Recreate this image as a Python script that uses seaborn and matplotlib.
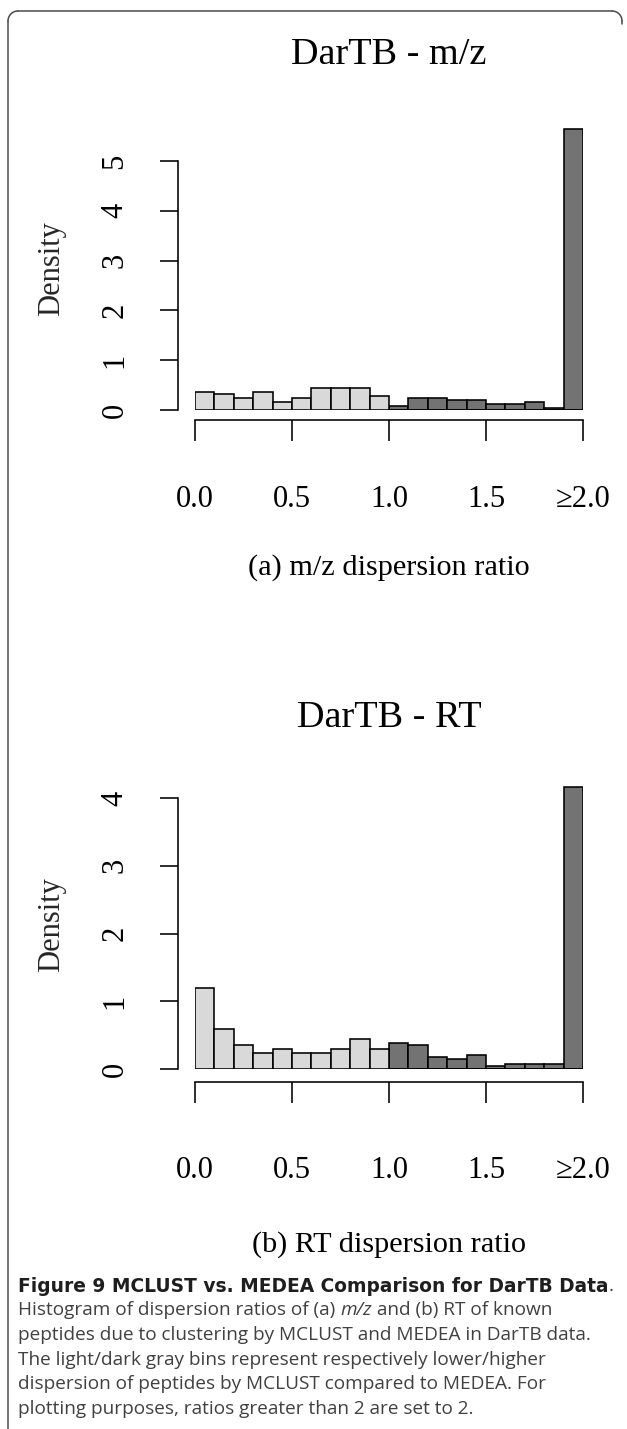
import numpy as np
import pandas as pd
import matplotlib
matplotlib.use("Agg")
import matplotlib.pyplot as plt
from matplotlib.lines import Line2D
import seaborn as sns

# ---------------- data ----------------
bin_edges = [0.0, 0.1, 0.2, 0.3, 0.4, 0.5, 0.6, 0.7, 0.8, 0.9, 1.0,
             1.1, 1.2, 1.3, 1.4, 1.5, 1.6, 1.7, 1.8, 1.9, 2.0]
mz_density = [0.37, 0.33, 0.24, 0.37, 0.17, 0.24, 0.44, 0.44, 0.44, 0.29,
              0.08, 0.24, 0.24, 0.20, 0.20, 0.12, 0.12, 0.17, 0.04, 5.64]
rt_density = [1.19, 0.59, 0.35, 0.23, 0.30, 0.23, 0.23, 0.30, 0.45, 0.30,
              0.39, 0.35, 0.18, 0.15, 0.21, 0.05, 0.08, 0.08, 0.08, 4.16]
x_ticks = [0.0, 0.5, 1.0, 1.5, 2.0]
x_ticklabels = ["0.0", "0.5", "1.0", "1.5", "\u22652.0"]
mz_yticks = [0, 1, 2, 3, 4, 5]
rt_yticks = [0, 1, 2, 3, 4]
titles = ["DarTB - m/z", "DarTB - RT"]
xlabels = ["(a) m/z dispersion ratio", "(b) RT dispersion ratio"]
ylabel = "Density"

LIGHT = "#D9D9D9"
DARK = "#737373"

sns.set_theme(style="white")
plt.rcParams["font.family"] = ["Liberation Serif", "DejaVu Serif"]

W, H = 627, 1429
fig = plt.figure(figsize=(W / 100, H / 100), dpi=100)
fig.patch.set_facecolor("white")


def fx(px):
    return px / W


def fy(py):
    return 1 - py / H


def panel(ax, dens, yticks, ytop, title, xlabel, xoff, xpad, title_base, xlab_base):
    edges = list(bin_edges)
    centers = [(edges[i] + edges[i + 1]) / 2 for i in range(len(edges) - 1)]
    shade = ["light" if c < 1.0 else "dark" for c in centers]
    df = pd.DataFrame({"center": centers, "density": dens, "shade": shade})
    sns.histplot(data=df, x="center", weights="density", hue="shade",
                 bins=edges, stat="count", multiple="layer",
                 hue_order=["light", "dark"],
                 palette={"light": LIGHT, "dark": DARK}, alpha=1,
                 edgecolor="black", linewidth=1.15, legend=False, ax=ax)
    ax.set_xlim(0, 2)
    ax.set_ylim(0, ytop)
    ax.set_facecolor("white")
    for s in ["top", "right"]:
        ax.spines[s].set_visible(False)
    ax.spines["left"].set_position(("outward", 12.2))
    ax.spines["left"].set_bounds(yticks[0], yticks[-1])
    ax.spines["bottom"].set_position(("outward", xoff))
    ax.spines["bottom"].set_bounds(0, 2)
    for s in ["left", "bottom"]:
        ax.spines[s].set_color("black")
        ax.spines[s].set_linewidth(1.15)
    ax.set_xticks(x_ticks)
    ax.set_xticklabels(x_ticklabels)
    ax.set_yticks(yticks)
    ax.set_yticklabels([str(v) for v in yticks])
    ax.tick_params(axis="x", direction="out", length=15, width=1.15,
                   color="black", pad=xpad, labelsize=22, labelcolor="black",
                   bottom=True)
    ax.tick_params(axis="y", direction="out", length=13, width=1.15,
                   color="black", pad=22, labelsize=22, labelcolor="black",
                   left=True, labelrotation=90)
    for t in ax.get_yticklabels():
        t.set_va("center")
    ax.set_xlabel("")
    ax.set_ylabel(ylabel, fontsize=22, va="center")
    ax.yaxis.set_label_coords((52 - 195) / 388, 0.5)
    fig.text(fx(389), fy(title_base), title, ha="center", va="baseline",
             fontsize=27.5, color="black")
    fig.text(fx(389), fy(xlab_base), xlabel, ha="center", va="baseline",
             fontsize=21.8, color="black")


ax1 = fig.add_axes([fx(195), fy(410), fx(583) - fx(195), 5.7 * 49.8 / H])
panel(ax1, mz_density, mz_yticks, 5.7, titles[0], xlabels[0], 7.2, 32, 64, 575)

ax2 = fig.add_axes([fx(195), fy(1069), fx(583) - fx(195), 4.25 * 67.75 / H])
panel(ax2, rt_density, rt_yticks, 4.25, titles[1], xlabels[1], 9.1, 38.5, 727, 1252)

# ---------------- frame ----------------
r = 10
FC = "#4a4a4a"
arc_t = np.linspace(0, np.pi / 2, 20)


def fline(xs, ys):
    fig.add_artist(Line2D([fx(v) for v in xs], [fy(v) for v in ys],
                          color=FC, lw=1.1, transform=fig.transFigure))


fline([622, 622], [11 + r, 24])
fline([622 - r + r * np.cos(t) for t in arc_t], [11 + r - r * np.sin(t) for t in arc_t])
fline([622 - r, 8 + r], [11, 11])
fline([8 + r - r * np.sin(t) for t in arc_t], [11 + r - r * np.cos(t) for t in arc_t])
fline([8, 8], [11 + r, 1429])

# ---------------- caption ----------------
renderer = fig.canvas.get_renderer()


def put_pieces(y, pieces, x0=18):
    x = x0
    for txt, weight, style, color, fam, size in pieces:
        t = fig.text(fx(x), fy(y), txt, ha="left", va="center", fontsize=size,
                     family=fam, fontweight=weight, fontstyle=style, color=color)
        bb = t.get_window_extent(renderer=renderer)
        x += bb.width


BOLD_C = "#1E1E1E"
REG_C = "#404040"
REG_F = ["Open Sans", "DejaVu Sans"]
BOLD_F = ["DejaVu Sans"]
RS = 13.7
BS = 13.4
line_y = [1286, 1310, 1335, 1360, 1384, 1409]
put_pieces(line_y[0], [("Figure 9 MCLUST vs. MEDEA Comparison for DarTB Data", "bold", "normal", BOLD_C, BOLD_F, BS),
                       (".", "normal", "normal", REG_C, REG_F, RS)])
put_pieces(line_y[1], [("Histogram of dispersion ratios of (a) ", "normal", "normal", REG_C, REG_F, RS),
                       ("m/z", "normal", "italic", REG_C, REG_F, RS),
                       (" and (b) RT of known", "normal", "normal", REG_C, REG_F, RS)])
put_pieces(line_y[2], [("peptides due to clustering by MCLUST and MEDEA in DarTB data.", "normal", "normal", REG_C, REG_F, RS)])
put_pieces(line_y[3], [("The light/dark gray bins represent respectively lower/higher", "normal", "normal", REG_C, REG_F, RS)])
put_pieces(line_y[4], [("dispersion of peptides by MCLUST compared to MEDEA. For", "normal", "normal", REG_C, REG_F, RS)])
put_pieces(line_y[5], [("plotting purposes, ratios greater than 2 are set to 2.", "normal", "normal", REG_C, REG_F, RS)])

fig.savefig("out.png", dpi=100, facecolor="white")
